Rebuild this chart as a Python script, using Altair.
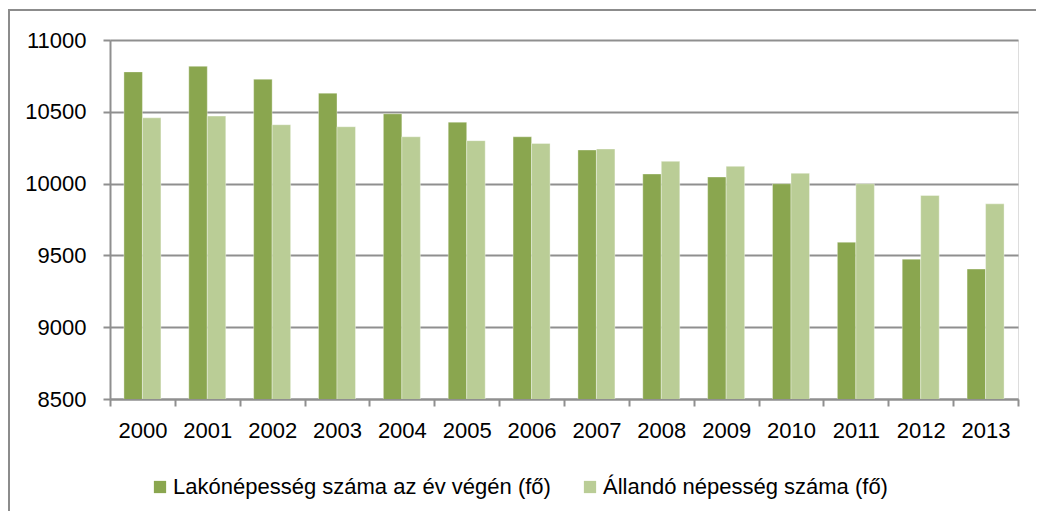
import altair as alt
import pandas as pd

years = ["2000", "2001", "2002", "2003", "2004", "2005", "2006",
         "2007", "2008", "2009", "2010", "2011", "2012", "2013"]
lakonepesseg = [10778, 10817, 10727, 10630, 10486, 10428, 10326,
                10234, 10067, 10046, 9999, 9592, 9474, 9405]
allando = [10458, 10470, 10410, 10396, 10326, 10299, 10280,
           10241, 10155, 10120, 10072, 9999, 9917, 9859]
series_names = ["Lakónépesség száma az év végén (fő)", "Állandó népesség száma (fő)"]
series_colors = ["#8aa64f", "#bacd96"]
y_ticks = [8500, 9000, 9500, 10000, 10500, 11000]

rows = []
for i, y in enumerate(years):
    rows.append({"year": y, "series": series_names[0], "order": 0, "value": lakonepesseg[i]})
    rows.append({"year": y, "series": series_names[1], "order": 1, "value": allando[i]})
df = pd.DataFrame(rows)

FONT = "Liberation Sans, Arial, sans-serif"
GRID = "#8f8f8f"

bars = alt.Chart(df).mark_bar(clip=True, stroke="white", strokeWidth=0.6, strokeOpacity=0.6).encode(
    x=alt.X("year:N", sort=years, title=None,
            scale=alt.Scale(paddingInner=0, paddingOuter=0),
            axis=alt.Axis(labelAngle=0, tickBand="extent",
                          domainColor=GRID, domainWidth=2, tickColor=GRID,
                          tickWidth=2, tickSize=7, labelPadding=14,
                          labelOverlap=False,
                          labelFont=FONT, labelFontSize=22, labelColor="#000000",
                          grid=False)),
    xOffset=alt.XOffset("series:N", sort=series_names,
                        scale=alt.Scale(paddingInner=0, paddingOuter=0.753)),
    y=alt.Y("value:Q", title=None,
            scale=alt.Scale(domain=[8500, 11000], nice=False, zero=False),
            axis=alt.Axis(values=y_ticks, format="d", grid=True, gridColor=GRID, gridWidth=2,
                          domainColor=GRID, domainWidth=2, tickColor=GRID,
                          tickWidth=2, tickSize=7, labelPadding=17,
                          labelFont=FONT, labelFontSize=22, labelColor="#000000")),
    color=alt.Color("series:N", sort=series_names,
                    scale=alt.Scale(domain=series_names, range=series_colors),
                    legend=alt.Legend(orient="none", legendX=39, legendY=436,
                                      direction="horizontal", title=None,
                                      symbolType="square", symbolSize=150,
                                      symbolStrokeWidth=0, labelOffset=2,
                                      columnPadding=28, labelFont=FONT,
                                      labelFontSize=22, labelColor="#000000",
                                      labelLimit=600)),
)

frame = alt.Chart(pd.DataFrame({"k": [0]})).mark_rect(
    fill=None, stroke="#8c8c8c", strokeWidth=2
).encode(
    x=alt.value(-101), x2=alt.value(1100), y=alt.value(-30), y2=alt.value(700)
)

chart = alt.layer(frame, bars).properties(
    width=908, height=359,
    autosize=alt.AutoSizeParams(type="none"),
    padding={"left": 102, "top": 32, "right": 18, "bottom": 112},
).configure_view(stroke=None).configure(background="white")

chart.save("out.html", embed_options={"renderer": "svg", "actions": False})
